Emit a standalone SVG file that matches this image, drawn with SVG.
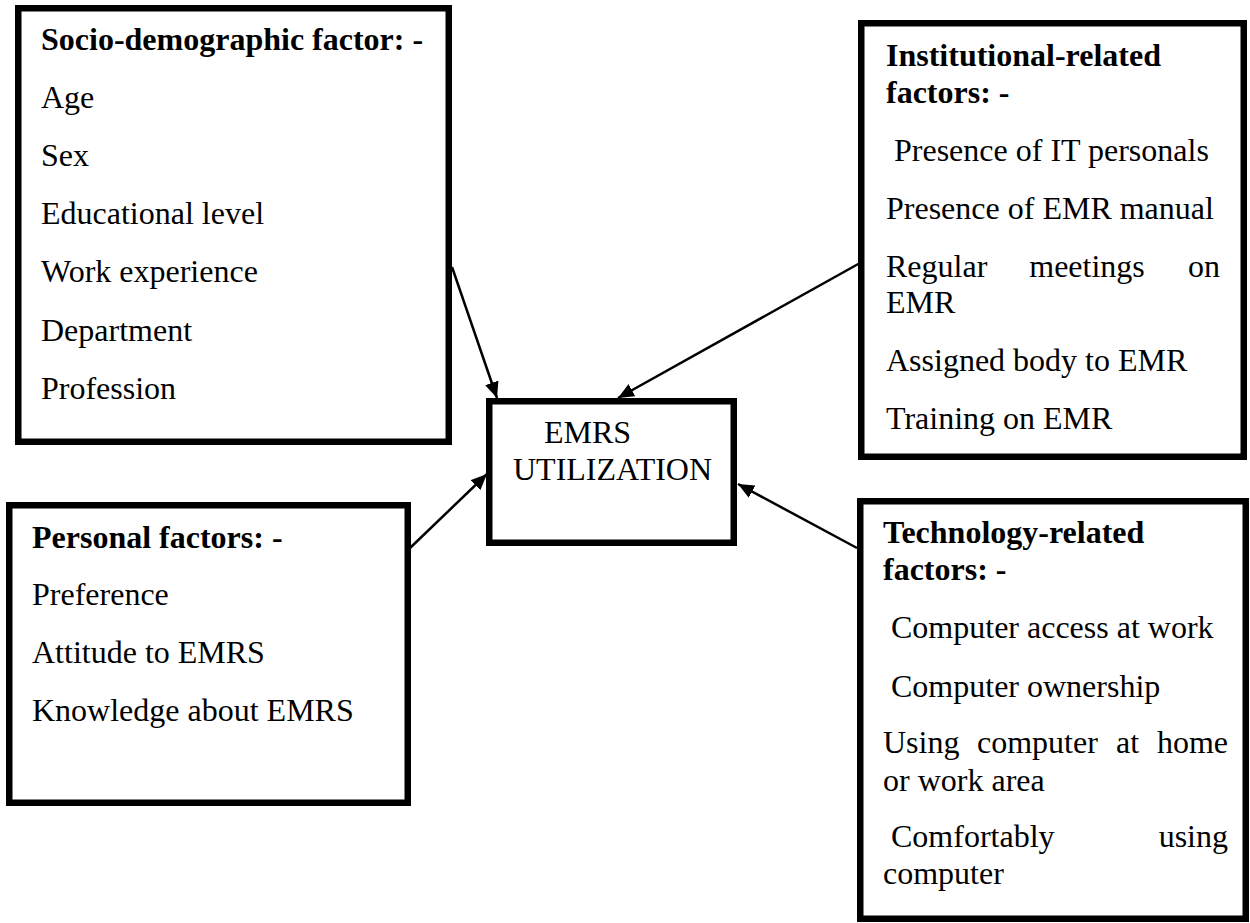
<svg xmlns="http://www.w3.org/2000/svg" width="1250" height="923" viewBox="0 0 1250 923">
<defs>
<style>
.box{fill:#fff;stroke:#000;stroke-width:6.5}
.t{font-family:"Liberation Serif","Times New Roman",serif;font-size:32px;fill:#000}
.b{font-weight:bold}
.conn{stroke:#000;stroke-width:2.5;fill:none}
</style>
<marker id="ah" markerUnits="userSpaceOnUse" markerWidth="20" markerHeight="16" refX="16" refY="7" orient="auto">
<path d="M0,0 L16,7 L0,14 Z" fill="#000"/>
</marker>
</defs>
<rect width="1250" height="923" fill="#fff"/>
<g id="connectors">
<line class="conn" x1="452" y1="267" x2="497" y2="398" marker-end="url(#ah)"/>
<line class="conn" x1="860" y1="263" x2="618" y2="398" marker-end="url(#ah)"/>
<line class="conn" x1="410" y1="548" x2="487" y2="474" marker-end="url(#ah)"/>
<line class="conn" x1="857" y1="548" x2="738" y2="484" marker-end="url(#ah)"/>
</g>
<g id="socio">
<rect class="box" x="18.25" y="8.25" width="430.5" height="433.5"/>
<text class="t b" x="41" y="50">Socio-demographic factor: -</text>
<text class="t" x="41" y="108">Age</text>
<text class="t" x="41" y="166">Sex</text>
<text class="t" x="41" y="224">Educational level</text>
<text class="t" x="41" y="282">Work experience</text>
<text class="t" x="41" y="341">Department</text>
<text class="t" x="41" y="399">Profession</text>
</g>
<g id="institutional">
<rect class="box" x="861.25" y="23.25" width="382.5" height="433.5"/>
<text class="t b" x="886" y="66">Institutional-related</text>
<text class="t b" x="886" y="103">factors: -</text>
<text class="t" x="894" y="161">Presence of IT personals</text>
<text class="t" x="886" y="219">Presence of EMR manual</text>
<text class="t" x="886" y="277">Regular</text>
<text class="t" x="1087" y="277" text-anchor="middle">meetings</text>
<text class="t" x="1220" y="277" text-anchor="end">on</text>
<text class="t" x="886" y="313">EMR</text>
<text class="t" x="886" y="371">Assigned body to EMR</text>
<text class="t" x="886" y="429">Training on EMR</text>
</g>
<g id="emrs">
<rect class="box" x="489.25" y="401.25" width="244.5" height="141.5"/>
<text class="t" x="544" y="443">EMRS</text>
<text class="t" x="513" y="480">UTILIZATION</text>
</g>
<g id="personal">
<rect class="box" x="9.25" y="505.25" width="398.5" height="297.5"/>
<text class="t b" x="32" y="548">Personal factors: -</text>
<text class="t" x="32" y="605">Preference</text>
<text class="t" x="32" y="663">Attitude to EMRS</text>
<text class="t" x="32" y="721">Knowledge about EMRS</text>
</g>
<g id="technology">
<rect class="box" x="860.25" y="501.25" width="385.5" height="417.5"/>
<text class="t b" x="883" y="543">Technology-related</text>
<text class="t b" x="883" y="580">factors: -</text>
<text class="t" x="891" y="638">Computer access at work</text>
<text class="t" x="891" y="697">Computer ownership</text>
<text class="t" x="883" y="753">Using</text>
<text class="t" x="977" y="753">computer</text>
<text class="t" x="1116" y="753">at</text>
<text class="t" x="1228" y="753" text-anchor="end">home</text>
<text class="t" x="883" y="791">or work area</text>
<text class="t" x="891" y="847">Comfortably</text>
<text class="t" x="1228" y="847" text-anchor="end">using</text>
<text class="t" x="883" y="884">computer</text>
</g>
</svg>
